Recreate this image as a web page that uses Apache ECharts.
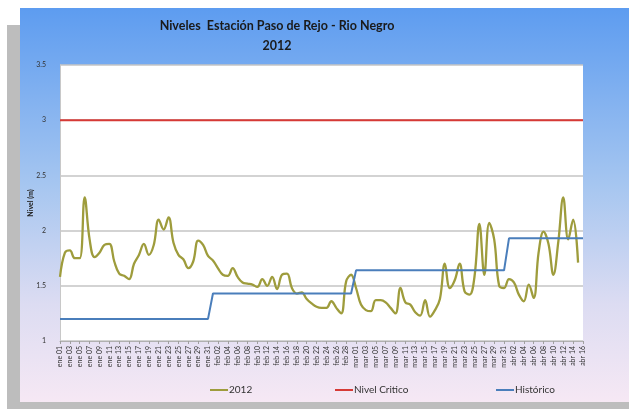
<!DOCTYPE html>
<html>
<head>
<meta charset="utf-8">
<script src="https://cdn.jsdelivr.net/npm/echarts@6/dist/echarts.min.js"></script>
<style>
html,body{margin:0;padding:0;background:#fff;}
#c{width:629px;height:412px;}
</style>
</head>
<body>
<div id="c"></div>
<script>
// ---- data ----
var meses = ['ene', 'feb', 'mar', 'abr'];
var diasPorMes = [31, 29, 31, 16];
var yTicks = [1, 1.5, 2, 2.5, 3, 3.5];

var nivel2012 = [
  1.58, 1.80, 1.82, 1.75, 1.75, 2.30, 1.92, 1.76, 1.80, 1.87,
  1.88, 1.72, 1.61, 1.59, 1.56, 1.70, 1.78, 1.88, 1.78, 1.87,
  2.10, 2.01, 2.12, 1.89, 1.78, 1.74, 1.66, 1.72, 1.91, 1.87,
  1.77, 1.73, 1.66, 1.60, 1.59, 1.66, 1.58, 1.53, 1.52, 1.51,
  1.49, 1.56, 1.50, 1.58, 1.47, 1.60, 1.61, 1.48, 1.43, 1.44,
  1.38, 1.34, 1.31, 1.30, 1.30, 1.36, 1.30, 1.25, 1.54, 1.60,
  1.48, 1.33, 1.28, 1.27, 1.37, 1.37, 1.35, 1.30, 1.25, 1.48,
  1.35, 1.33, 1.26, 1.23, 1.37, 1.22, 1.28, 1.38, 1.70, 1.48,
  1.55, 1.70, 1.45, 1.42, 1.58, 2.06, 1.60, 2.07, 1.92, 1.50,
  1.48, 1.56, 1.53, 1.42, 1.36, 1.51, 1.39, 1.80, 1.99, 1.88,
  1.60, 1.90, 2.30, 1.92, 2.10, 1.71, null
];
var nivelCritico = 3.0;
var historicoMensual = [1.20, 1.43, 1.64, 1.93];

// ---- build categories / series from the arrays above ----
var categorias = [];
var historico = [];
var critico = [];
for (var m = 0; m < meses.length; m++) {
  for (var d = 1; d <= diasPorMes[m]; d++) {
    categorias.push(meses[m] + ' ' + (d < 10 ? '0' + d : '' + d));
    historico.push(historicoMensual[m]);
    critico.push(nivelCritico);
  }
}

var chart = echarts.init(document.getElementById('c'), null, {renderer: 'canvas'});
var FONT = 'Lato, "Liberation Sans", sans-serif';

function legendItem(name, left) {
  return {
    data: [name],
    left: left,
    top: 385,
    padding: 0,
    icon: 'rect',
    itemWidth: 18,
    itemHeight: 2,
    itemGap: 2,
    textStyle: {fontFamily: FONT, fontSize: 10, color: '#333', padding: [0, 0, 0, -4]}
  };
}

chart.setOption({
  animation: false,
  backgroundColor: '#ffffff',
  graphic: [
    {type: 'rect', z: -10, silent: true, shape: {x: 7, y: 25, width: 622, height: 384}, style: {fill: '#bdbdbd'}},
    {type: 'rect', z: -9, silent: true, shape: {x: 20, y: 8, width: 609, height: 394},
      style: {fill: new echarts.graphic.LinearGradient(0, 0, 0, 1, [
        {offset: 0, color: '#5d9cf0'},
        {offset: 0.45, color: '#a6c6f0'},
        {offset: 0.75, color: '#dcdcf2'},
        {offset: 1, color: '#f6e8f4'}
      ])}}
  ],
  title: {
    text: 'Niveles  Estación Paso de Rejo - Rio Negro\n2012',
    left: 277,
    textAlign: 'center',
    top: 16,
    padding: 0,
    textStyle: {fontFamily: FONT, fontSize: 12.5, fontWeight: 'bold', color: '#1a1a1a', lineHeight: 20}
  },
  legend: [
    legendItem('2012', 210),
    legendItem('Nivel Critico', 335),
    legendItem('Histórico', 496)
  ],
  grid: {
    left: 60, right: 46, top: 65, bottom: 71,
    show: true, backgroundColor: '#ffffff', borderWidth: 0
  },
  xAxis: {
    type: 'category',
    data: categorias,
    boundaryGap: false,
    axisLine: {lineStyle: {color: '#b0b0b0', width: 1}},
    axisTick: {show: true, interval: 1, length: 3, lineStyle: {color: '#a0a0a0'}},
    axisLabel: {interval: 1, rotate: 90, fontFamily: FONT, fontSize: 7, color: '#333', margin: 5},
    splitLine: {show: false}
  },
  yAxis: {
    type: 'value',
    min: yTicks[0],
    max: yTicks[yTicks.length - 1],
    interval: 0.5,
    name: 'Nivel (m)',
    nameLocation: 'middle',
    nameGap: 26,
    nameMoveOverlap: false,
    nameRotate: 90,
    nameTextStyle: {fontFamily: FONT, fontSize: 7, fontWeight: 'bold', color: '#222'},
    axisLine: {show: true, lineStyle: {color: '#c8c8c8'}},
    axisTick: {show: false},
    axisLabel: {fontFamily: FONT, fontSize: 7, color: '#333', margin: 14},
    splitLine: {lineStyle: {color: '#c4c4c4', width: 1.5}}
  },
  series: [
    {
      name: '2012', type: 'line', data: nivel2012, smooth: 0.4, symbol: 'none',
      lineStyle: {color: '#9e9c3c', width: 2.3}, itemStyle: {color: '#9e9c3c'}, z: 3
    },
    {
      name: 'Nivel Critico', type: 'line', data: critico, symbol: 'none',
      lineStyle: {color: '#d63a36', width: 2}, itemStyle: {color: '#d63a36'}
    },
    {
      name: 'Histórico', type: 'line', data: historico, symbol: 'none',
      lineStyle: {color: '#4a7ebb', width: 2}, itemStyle: {color: '#4a7ebb'}
    }
  ]
});
</script>
</body>
</html>
